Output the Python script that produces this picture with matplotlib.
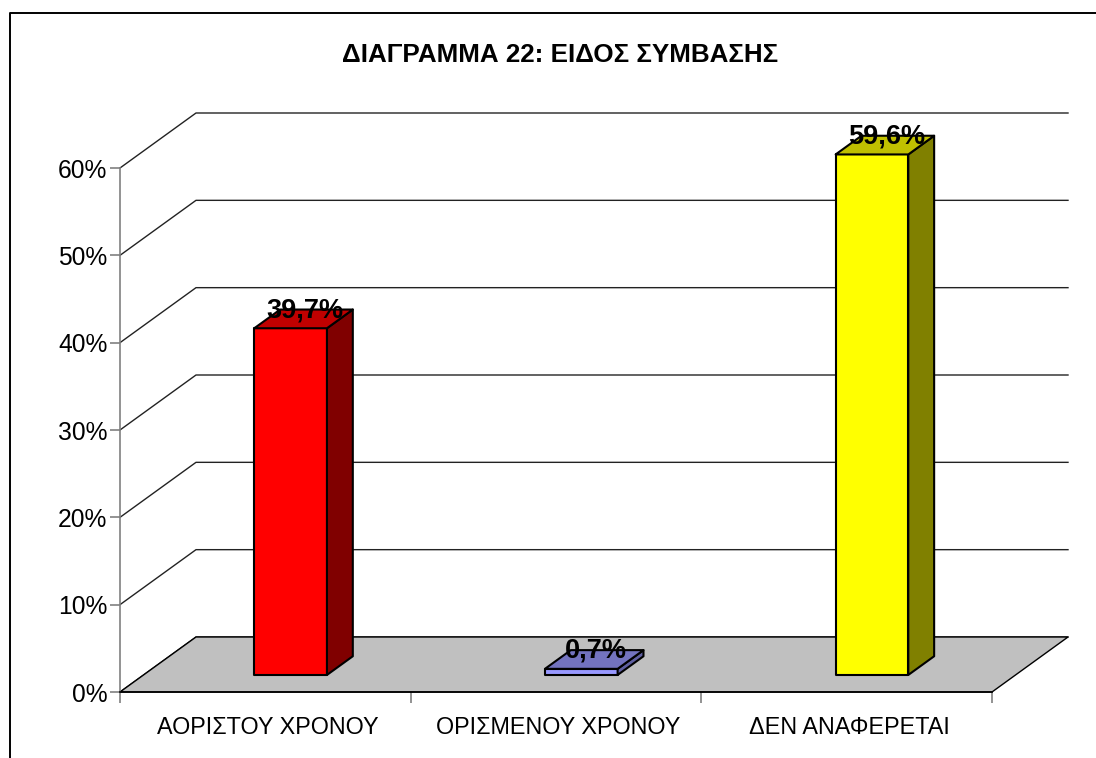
import matplotlib
matplotlib.use('Agg')
import matplotlib.pyplot as plt
from matplotlib.patches import Polygon

title = 'ΔΙΑΓΡΑΜΜΑ 22: ΕΙΔΟΣ ΣΥΜΒΑΣΗΣ'
categories = ['ΑΟΡΙΣΤΟΥ ΧΡΟΝΟΥ', 'ΟΡΙΣΜΕΝΟΥ ΧΡΟΝΟΥ', 'ΔΕΝ ΑΝΑΦΕΡΕΤΑΙ']
values = [39.7, 0.7, 59.6]
value_labels = ['39,7%', '0,7%', '59,6%']
front_colors = ['#ff0000', '#9999ff', '#ffff00']
top_colors = ['#c00000', '#7373bf', '#c0c000']
side_colors = ['#800000', '#5f5fa0', '#808000']
yticks = [0, 10, 20, 30, 40, 50, 60]

W, H = 1096, 758
plt.rcParams['font.family'] = ['Liberation Sans', 'DejaVu Sans']

fig = plt.figure(figsize=(W / 100, H / 100), dpi=100)
ax = fig.add_axes([120 / W, 1 - 692 / H, 872 / W, 524 / H])
ax.set_xlim(0, 3)
ax.set_ylim(0, 60)
ax.patch.set_visible(False)

# oblique depth of the whole chart, in data units
DX = 76 / (872 / 3)
DY = 55 / (524 / 60)


def proj(x, y, d):
    return (x + d * DX, y + d * DY)


def face(pts, color, z=3, lw=1.5):
    ax.add_patch(Polygon(pts, closed=True, facecolor=color, edgecolor='black',
                         linewidth=lw, clip_on=False, zorder=z, joinstyle='round'))


# walls
for t in yticks:
    ax.plot(*zip(proj(0, t, 0), proj(0, t, 1), proj(3, t, 1)),
            color='#222222', lw=1.0, clip_on=False, zorder=1)

# floor
face([proj(0, 0, 0), proj(3, 0, 0), proj(3, 0, 1), proj(0, 0, 1)], '#c0c0c0', z=2, lw=1.0)

# bars sit in the middle third of the depth
bar_w = 0.25
for i, v in enumerate(values):
    x0 = i + 0.506 - bar_w / 2
    x1 = i + 0.506 + bar_w / 2
    d0, d1 = 0.31, 0.65
    face([proj(x0, 0, d0), proj(x1, 0, d0), proj(x1, v, d0), proj(x0, v, d0)], front_colors[i], z=4)
    face([proj(x1, 0, d0), proj(x1, 0, d1), proj(x1, v, d1), proj(x1, v, d0)], side_colors[i], z=4)
    face([proj(x0, v, d0), proj(x1, v, d0), proj(x1, v, d1), proj(x0, v, d1)], top_colors[i], z=4)
    lx = proj(i + 0.5, v, 0.52)[0]
    ly = proj(i + 0.5, v, 0.64)[1]
    ax.text(lx, ly, value_labels[i], ha='center', va='center', fontsize=19.5,
            fontweight='bold', color='black', zorder=6, clip_on=False)

# axes
for s in ['top', 'right']:
    ax.spines[s].set_visible(False)
ax.spines['left'].set_color('#808080')
ax.spines['left'].set_linewidth(1.2)
ax.spines['bottom'].set_color('black')
ax.spines['bottom'].set_linewidth(1.2)
ax.spines['bottom'].set_zorder(5)
ax.set_yticks(yticks)
ax.set_yticklabels([str(t) + '%' for t in yticks], fontsize=17.7, color='black')
ax.tick_params(axis='y', length=7, width=1.2, color='#808080', pad=2)
ax.set_xticks([0, 1, 2, 3])
ax.set_xticklabels([])
ax.tick_params(axis='x', length=8, width=1.2, color='#808080')
ax.set_xticks([0.508, 1.508, 2.508], labels=categories, minor=True, fontsize=16.8)
ax.tick_params(axis='x', which='minor', length=0, pad=17)

# chart frame, cut by the image edge on the right and bottom
fig.add_artist(plt.Line2D([10 / W, 10 / W, 1095.5 / W], [0, 1 - 13 / H, 1 - 13 / H],
                          color='black', lw=1.4))
fig.text(560 / W, 1 - 55 / H, title, ha='center', va='center', fontsize=18.7, fontweight='bold')

fig.savefig('out.png', dpi=100)
